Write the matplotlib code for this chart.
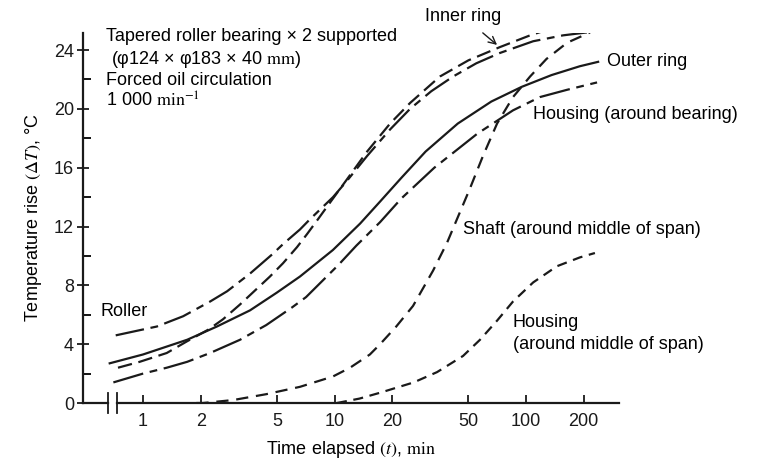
import matplotlib
matplotlib.use('Agg')
import matplotlib.pyplot as plt
import numpy as np

plt.rcParams['font.family'] = ['Liberation Sans', 'DejaVu Sans']
plt.rcParams['mathtext.fontset'] = 'stix'
plt.rcParams['font.size'] = 13

# values (time in min, temperature rise in degC)
roller_t = [0.72, 1.0, 1.18, 1.62, 2.24, 2.75, 3.62, 4.72, 5.38, 6.6, 7.45, 9.82, 11.6,
            14.8, 19.5, 24.8, 32, 41.6, 55, 73, 109, 156, 208]
roller_y = [4.6, 5.0, 5.2, 5.9, 6.9, 7.6, 8.8, 10.1, 10.8, 11.8, 12.5, 14.0, 15.1,
            16.8, 18.6, 20.0, 21.2, 22.2, 23.1, 23.8, 24.6, 25.0, 25.2]

inner_t = [0.74, 0.96, 1.33, 1.70, 2.2, 2.62, 3.21, 4.60, 5.38, 6.37, 7.2, 8.2, 9.2,
           11.6, 14.8, 19.5, 24.8, 35.5, 50, 73, 105, 138, 185]
inner_y = [2.4, 2.8, 3.4, 4.2, 5.0, 5.7, 6.7, 8.6, 9.5, 10.6, 11.5, 12.5, 13.4,
           15.2, 17.1, 19.0, 20.4, 22.2, 23.3, 24.2, 25.0, 25.5, 25.7]

outer_t = [0.67, 1.0, 1.70, 2.43, 3.62, 4.99, 6.6, 9.8, 13.6, 17.3, 22.3, 29.9,
           44, 65.9, 95, 136, 191, 238]
outer_y = [2.7, 3.3, 4.3, 5.2, 6.3, 7.5, 8.6, 10.4, 12.2, 13.7, 15.3, 17.1,
           19.0, 20.5, 21.5, 22.3, 22.9, 23.2]

housing_b_t = [0.70, 1.0, 1.33, 1.70, 2.24, 3.21, 4.4, 6.0, 7.1, 10.5, 13.0, 17.3,
               22.3, 33.2, 44.4, 55.5, 85.5, 118, 164, 235]
housing_b_y = [1.4, 2.0, 2.4, 2.8, 3.4, 4.3, 5.3, 6.5, 7.2, 9.4, 10.7, 12.3,
               13.9, 16.0, 17.3, 18.3, 19.9, 20.8, 21.3, 21.8]

shaft_t = [1.9, 2.06, 2.95, 4.4, 6.6, 9.8, 12.05, 15.3, 17.3, 21, 25.7, 32.7, 38.7,
           43.6, 51.0, 59.6, 70.6, 85.5, 105, 128, 164, 216]
shaft_y = [0.0, 0.0, 0.2, 0.6, 1.1, 1.8, 2.4, 3.3, 4.0, 5.2, 6.6, 9.0, 10.9,
           12.5, 14.6, 16.8, 19.0, 20.8, 22.2, 23.4, 24.5, 25.2]

housing_m_t = [10.3, 13.5, 17.3, 25.9, 34.3, 46.9, 57.5, 70.6, 85.5, 109, 145, 191, 229]
housing_m_y = [0.0, 0.3, 0.7, 1.4, 2.1, 3.2, 4.3, 5.6, 6.9, 8.2, 9.3, 9.9, 10.2]

x_ticks = [1, 2, 5, 10, 20, 50, 100, 200]
y_ticks = [0, 4, 8, 12, 16, 20, 24]

fig = plt.figure(figsize=(7.63, 4.61), dpi=100)
ax = fig.add_axes([0.1088, 0.1258, 0.7025, 0.8026])

ink = '#1a1a1a'
lw = 1.6
ax.plot(roller_t, roller_y, color=ink, lw=lw, dashes=(13, 3, 3.5, 3))
ax.plot(inner_t, inner_y, color=ink, lw=lw, dashes=(6.5, 3))
ax.plot(outer_t, outer_y, color=ink, lw=lw)
ax.plot(housing_b_t, housing_b_y, color=ink, lw=lw, dashes=(14, 3, 3.5, 3))
ax.plot(shaft_t, shaft_y, color=ink, lw=lw, dashes=(5.5, 3.5))
ax.plot(housing_m_t, housing_m_y, color=ink, lw=lw, dashes=(4.5, 3))

ax.set_xscale('log')
ax.set_xlim(0.486, 306)
ax.set_ylim(0, 25.16)

ax.set_xticks(x_ticks)
ax.set_xticklabels([str(v) for v in x_ticks])
ax.xaxis.set_minor_locator(matplotlib.ticker.NullLocator())
ax.set_yticks(y_ticks)
ax.set_yticks([2, 6, 10, 14, 18, 22], minor=True)
ax.tick_params(axis='x', direction='in', length=6, width=1.3, pad=7, colors=ink)
ax.tick_params(axis='y', which='major', direction='inout', length=9, width=1.3, pad=2,
               colors=ink)
ax.tick_params(axis='y', which='minor', direction='in', length=6, width=1.3)

for s in ['top', 'right', 'bottom']:
    ax.spines[s].set_visible(False)
ax.spines['left'].set_linewidth(1.6)
ax.spines['left'].set_color(ink)

# broken x axis line
b1, b2 = 0.0466, 0.0634
ax.plot([0, b1], [0, 0], transform=ax.transAxes, color=ink, lw=1.6, clip_on=False)
ax.plot([b2, 1], [0, 0], transform=ax.transAxes, color=ink, lw=1.6, clip_on=False)
for b in (b1, b2):
    ax.plot([b, b], [-0.028, 0.028], transform=ax.transAxes, color=ink, lw=1.3,
            clip_on=False)

ax.set_xlabel(r'Time elapsed $(t)$, $\mathrm{min}$', labelpad=7)
ax.set_ylabel(r'Temperature rise $(\mathit{\Delta T})$, °C', labelpad=7)

ax.text(0.641, 24.9, 'Tapered roller bearing × 2 supported', va='center')
ax.text(0.681, 23.33, r'(φ124 × φ183 × 40 $\mathrm{mm}$)', va='center')
ax.text(0.641, 21.9, 'Forced oil circulation', va='center')
ax.text(0.641, 20.5, r'1 000 $\mathrm{min}^{-1}$', va='center')

ax.text(0.603, 6.2, 'Roller', va='center')
ax.text(265, 23.2, 'Outer ring', va='center')
ax.text(109, 19.6, 'Housing (around bearing)', va='center')
ax.text(46.9, 11.8, 'Shaft (around middle of span)', va='center')
ax.text(85.5, 5.5, 'Housing', va='center')
ax.text(85.5, 3.95, '(around middle of span)', va='center')
ax.annotate('Inner ring', xy=(70.6, 24.35), xytext=(46.9, 26.3), ha='center', va='center',
            annotation_clip=False,
            arrowprops=dict(arrowstyle='->', color=ink, lw=1.0, shrinkA=6, shrinkB=0))

fig.savefig('out.png', dpi=100)
